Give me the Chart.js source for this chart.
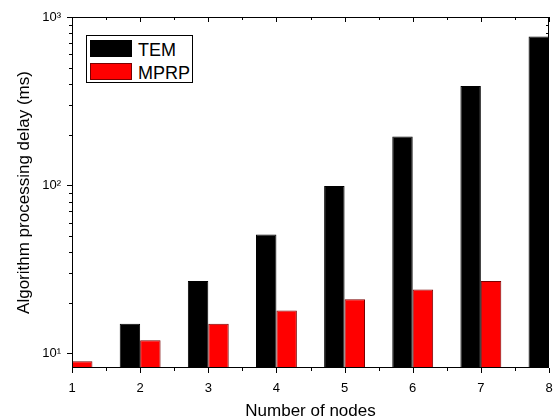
<!DOCTYPE html>
<html lang="en">
<head>
<meta charset="UTF-8">
<title>Algorithm processing delay</title>
<style>
    body { margin: 0; background: #fff; }
    #wrap { position: relative; width: 556px; height: 420px; }
    #legend {
        position: absolute; left: 86px; top: 35px; width: 107px; height: 48px;
        box-sizing: border-box; border: 1px solid #000; background: #fff;
        font-family: "Liberation Sans", Arial, sans-serif; font-size: 18px; color: #000;
    }
    .sw { position: absolute; left: 3px; width: 42px; height: 17px; box-sizing: border-box; border: 1px solid; }
    .lb { position: absolute; left: 51px; line-height: 18px; white-space: nowrap; }
</style>
<script src="https://cdn.jsdelivr.net/npm/chart.js"></script>
</head>
<body>
<div id="wrap">
    <canvas id="chart" width="556" height="420"></canvas>
    <div id="legend"></div>
</div>
<script>
    // values (log axis)
    const nodes = [1, 2, 3, 4, 5, 6, 7, 8];
    const temDelay = [null, 15, 27, 51, 99, 195, 389, 765];
    const mprpDelay = [9, 12, 15, 18, 21, 24, 27, null];
    const yMajor = [10, 100, 1000];
    const supers = { 1: '\u00B9', 2: '\u00B2', 3: '\u00B3' };

    const FONT = '"Liberation Sans", Arial, sans-serif';

    const series = [
        { label: 'TEM', values: temDelay, color: '#000000', border: '#000000' },
        { label: 'MPRP', values: mprpDelay, color: '#ff0000', border: '#7a0000' }
    ];

    // tick marks on all four sides, plus the frame
    const frameTicks = {
        id: 'frameTicks',
        afterDraw(chart) {
            const { ctx, chartArea: a, scales: { x, y } } = chart;
            const big = 5, small = 3;
            ctx.save();
            ctx.strokeStyle = '#000';
            ctx.lineWidth = 1;
            ctx.beginPath();
            const xTick = (v, len) => {
                const px = Math.round(x.getPixelForValue(v)) + 0.5;
                ctx.moveTo(px, a.bottom); ctx.lineTo(px, a.bottom + len);
                ctx.moveTo(px, a.top); ctx.lineTo(px, a.top + len);
            };
            const yTick = (v, len) => {
                const py = Math.round(y.getPixelForValue(v)) + 0.5;
                ctx.moveTo(a.left, py); ctx.lineTo(a.left - len, py);
                ctx.moveTo(a.right, py); ctx.lineTo(a.right - len, py);
            };
            nodes.forEach((n, i) => {
                xTick(n, big);
                if (i < nodes.length - 1) xTick(n + 0.5, small);
            });
            yMajor.forEach(d => {
                yTick(d, big);
                if (d < y.max) {
                    for (let m = 2; m <= 9; m++) yTick(d * m, small);
                }
            });
            ctx.stroke();
            ctx.strokeRect(a.left + 0.5, a.top + 0.5, a.right - a.left - 1, a.bottom - a.top - 1);
            ctx.restore();
        }
    };

    new Chart(document.getElementById('chart'), {
        type: 'bar',
        data: {
            datasets: series.map(s => ({
                label: s.label,
                data: nodes.map((n, i) => ({ x: n, y: s.values[i] })),
                backgroundColor: s.color,
                borderColor: s.border,
                borderWidth: 1,
                categoryPercentage: 0.6,
                barPercentage: 1
            }))
        },
        options: {
            responsive: false,
            animation: false,
            layout: { padding: { top: 17, right: 7, left: 0, bottom: 0 } },
            plugins: { legend: { display: false }, tooltip: { enabled: false } },
            scales: {
                x: {
                    type: 'linear',
                    min: 1, max: 8,
                    offset: false,
                    grid: { display: false, drawTicks: false, offset: false },
                    border: { display: false },
                    afterBuildTicks: s => { s.ticks = nodes.map(v => ({ value: v })); },
                    afterFit: s => { s.height = 52; s.paddingLeft = 0; s.paddingRight = 0; },
                    ticks: {
                        autoSkip: false, maxRotation: 0, padding: 13,
                        color: '#000', font: { family: FONT, size: 13 }
                    },
                    title: {
                        display: true, text: 'Number of nodes', color: '#000',
                        font: { family: FONT, size: 17, lineHeight: 1 },
                        padding: { top: 0, bottom: 0 }
                    }
                },
                y: {
                    type: 'logarithmic',
                    min: 8.2, max: 1000,
                    grid: { display: false, drawTicks: false },
                    border: { display: false },
                    afterBuildTicks: s => { s.ticks = yMajor.map(v => ({ value: v })); },
                    afterFit: s => { s.width = 72; s.paddingTop = 0; s.paddingBottom = 0; },
                    ticks: {
                        padding: 11, color: '#000', font: { family: FONT, size: 13 },
                        callback: v => '10' + supers[Math.round(Math.log10(v))]
                    },
                    title: {
                        display: true, text: 'Algorithm processing delay (ms)', color: '#000',
                        font: { family: FONT, size: 17, lineHeight: 1 },
                        padding: { top: 16, bottom: 0 }
                    }
                }
            }
        },
        plugins: [frameTicks]
    });

    // legend box drawn as html inside the plot area
    const legend = document.getElementById('legend');
    series.forEach((s, i) => {
        const top = 4 + i * 23;
        legend.insertAdjacentHTML('beforeend',
            `<div class="sw" style="top:${top}px;background:${s.color};border-color:${s.border}"></div>` +
            `<div class="lb" style="top:${top + 0.5}px">${s.label}</div>`);
    });
</script>
</body>
</html>
